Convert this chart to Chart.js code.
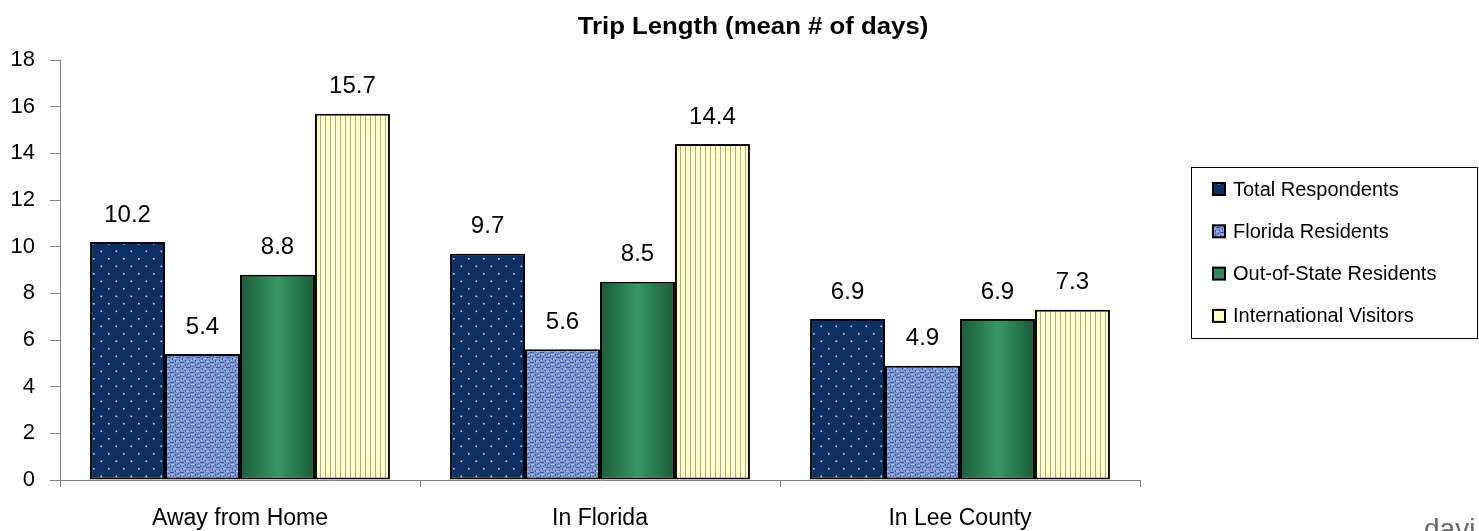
<!DOCTYPE html>
<html lang="en">
<head>
<meta charset="utf-8">
<script src="https://cdn.jsdelivr.net/npm/chart.js@4.4.1/dist/chart.umd.min.js"></script>
<style>
  html, body { margin: 0; padding: 0; background: #fff; }
  #wrap { width: 1479px; height: 531px; }
</style>
</head>
<body>
<div id="wrap"><canvas id="trip-length"></canvas></div>

<script>
    const categories = ["Away from Home", "In Florida", "In Lee County"];
    const seriesNames = ["Total Respondents", "Florida Residents", "Out-of-State Residents", "International Visitors"];
    const totalRespondents = [10.2, 9.7, 6.9];
    const floridaResidents = [5.4, 5.6, 4.9];
    const outOfStateResidents = [8.8, 8.5, 6.9];
    const internationalVisitors = [15.7, 14.4, 7.3];
    const yTicks = [0, 2, 4, 6, 8, 10, 12, 14, 16, 18];

    const FONT = "'Liberation Sans', Arial, sans-serif";
    const CAT_PCT = 0.833;

    // fill textures
    function makeTile(w, h, paint) {
        const c = document.createElement("canvas");
        c.width = w; c.height = h;
        paint(c.getContext("2d"));
        return document.createElement("canvas").getContext("2d").createPattern(c, "repeat");
    }

    const dotFill = makeTile(15, 15, g => {
        g.fillStyle = "#0b2f63";
        g.fillRect(0, 0, 15, 15);
        g.fillStyle = "#c8dcef";
        g.fillRect(3, 3, 1.6, 1.6);
        g.fillRect(10.5, 10.5, 1.6, 1.6);
    });

    // woven look: light threads over darker gaps
    const weaveFill = makeTile(10, 10, g => {
        g.fillStyle = "#7b97d4";
        g.fillRect(0, 0, 10, 10);
        g.fillStyle = "#3f5797";
        [[0,2],[1,2],[2,2],[3,2],[5,0],[5,1],[5,4],[5,5],[6,7],[7,7],[8,7],[9,7],[0,5],[0,6],[2,8],[2,9],[8,3],[7,4],[3,6],[9,0]].forEach(p => g.fillRect(p[0], p[1], 1, 1));
        g.fillStyle = "#a9c0ee";
        [[1,4],[2,4],[3,4],[6,1],[7,1],[8,1],[4,8],[5,8],[1,0],[8,5],[9,5],[3,9]].forEach(p => g.fillRect(p[0], p[1], 1, 1));
    });

    const stripeFill = makeTile(5, 4, g => {
        g.fillStyle = "#ffffc6";
        g.fillRect(0, 0, 5, 4);
        g.fillStyle = "#a9a99c";
        g.fillRect(0, 0, 1, 4);
    });

    // horizontal shading across each green bar
    function greenShade(ctx) {
        const chart = ctx.chart;
        const x = chart.scales.x;
        if (!x || ctx.dataIndex === undefined) return "#2e8b57";
        const catW = (x.right - x.left) / categories.length;
        const barW = catW * CAT_PCT / seriesNames.length;
        const cx = x.getPixelForValue(ctx.dataIndex) + (ctx.datasetIndex - 1.5) * barW;
        if (!isFinite(cx) || !isFinite(barW) || barW <= 0) return "#2e8b57";
        const grad = chart.ctx.createLinearGradient(cx - barW / 2, 0, cx + barW / 2, 0);
        grad.addColorStop(0, "#1b5a37");
        grad.addColorStop(0.5, "#379866");
        grad.addColorStop(1, "#1b5a37");
        return grad;
    }

    const legendSwatch = [dotFill, weaveFill, "#2e8b57", "#ffffc6"];

    const valueLabels = {
        id: "valueLabels",
        afterDatasetsDraw(chart) {
            const c = chart.ctx;
            c.save();
            c.font = "24px " + FONT;
            c.fillStyle = "#000";
            c.textAlign = "center";
            c.textBaseline = "middle";
            chart.data.datasets.forEach((ds, i) => {
                chart.getDatasetMeta(i).data.forEach((bar, j) => {
                    c.fillText(ds.data[j].toFixed(1), bar.x, bar.y - 27);
                });
            });
            c.restore();
        }
    };

    const titleAndLegend = {
        id: "titleAndLegend",
        afterDraw(chart) {
            const c = chart.ctx;
            c.save();
            c.fillStyle = "#000";
            c.textAlign = "center";
            c.textBaseline = "middle";
            c.font = "bold 23px " + FONT;
            c.save();
            c.translate(753, 28);
            c.scale(1.12, 1);
            c.fillText("Trip Length (mean # of days)", 0, 0);
            c.restore();

            // legend box
            c.strokeStyle = "#000";
            c.lineWidth = 1;
            c.strokeRect(1191.5, 167.5, 286, 171);
            c.font = "20px " + FONT;
            c.textAlign = "left";
            chart.data.datasets.forEach((ds, i) => {
                const y = 189 + i * 42.3;
                c.fillStyle = legendSwatch[i];
                c.fillRect(1213, y - 6, 12, 12);
                c.lineWidth = 2;
                c.strokeRect(1213, y - 6, 12, 12);
                c.fillStyle = "#000";
                c.fillText(ds.label, 1233, y + 1);
            });

            // logo fragment in the corner
            c.fillStyle = "#666";
            c.font = "28px " + FONT;
            c.fillText("davi", 1424, 530);
            c.restore();
        }
    };

    const fills = [dotFill, weaveFill, greenShade, stripeFill];
    const values = [totalRespondents, floridaResidents, outOfStateResidents, internationalVisitors];

    new Chart("trip-length", {
        type: "bar",
        data: {
            labels: categories,
            datasets: seriesNames.map((name, i) => ({
                label: name,
                data: values[i],
                backgroundColor: fills[i],
                borderColor: "#000",
                borderWidth: 2,
                borderSkipped: false,
                categoryPercentage: CAT_PCT,
                barPercentage: 1
            }))
        },
        options: {
            responsive: true,
            maintainAspectRatio: false,
            animation: false,
            layout: { padding: { top: 60, right: 339, left: 0, bottom: 0 } },
            plugins: {
                legend: { display: false },
                title: { display: false },
                tooltip: { enabled: false }
            },
            scales: {
                x: {
                    grid: { drawOnChartArea: false, color: "#808080", tickLength: 7, offset: true },
                    border: { color: "#808080", width: 1 },
                    ticks: { color: "#000", font: { family: FONT, size: 23 }, padding: 18 },
                    afterFit(scale) { scale.height = 51; }
                },
                y: {
                    min: 0,
                    max: 18,
                    afterBuildTicks(scale) { scale.ticks = yTicks.map(v => ({ value: v })); },
                    grid: { drawOnChartArea: false, color: "#808080", tickLength: 10 },
                    border: { color: "#808080", width: 1 },
                    ticks: { color: "#000", font: { family: FONT, size: 22 }, padding: 15 },
                    afterFit(scale) { scale.width = 60; }
                }
            }
        },
        plugins: [valueLabels, titleAndLegend]
    });
</script>
</body>
</html>
